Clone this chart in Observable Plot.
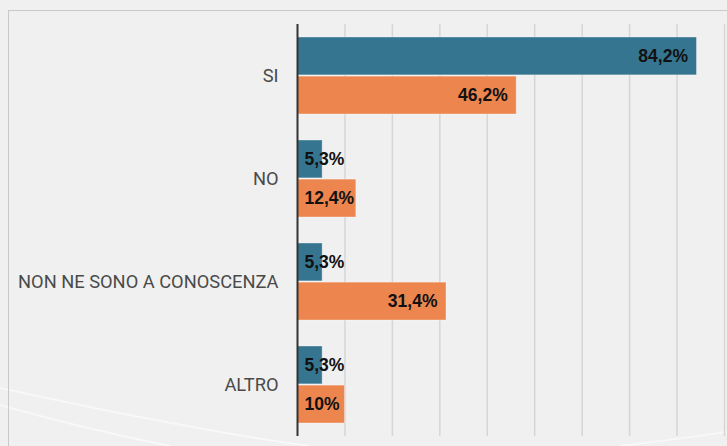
<!DOCTYPE html>
<html>
<head>
<meta charset="utf-8">
<script src="https://cdn.jsdelivr.net/npm/d3@7"></script>
<script src="https://cdn.jsdelivr.net/npm/@observablehq/plot@0.6"></script>
<style>
  html, body { margin: 0; padding: 0; background: #f0f0f0; width: 727px; height: 446px; overflow: hidden; }
  #wrap { position: relative; width: 727px; height: 446px; }
  #panel { position: absolute; left: 8px; top: 10px; right: -2px; bottom: -2px; border-top: 1.5px solid #c9c9c9; border-left: 1.5px solid #c9c9c9; }
  #deco { position: absolute; left: 0; top: 0; }
  #chart { position: absolute; left: 0; top: 0; }
</style>
</head>
<body>
<div id="wrap">
  <svg id="deco" width="727" height="446">
    <path d="M0,388 C110,412 220,434 310,446" fill="none" stroke="#ffffff" stroke-opacity="0.55" stroke-width="2"/>
    <path d="M0,405 C70,425 130,438 170,446" fill="none" stroke="#ffffff" stroke-opacity="0.55" stroke-width="2"/>
    <path d="M620,446 C670,440 705,435 727,432" fill="none" stroke="#ffffff" stroke-opacity="0.5" stroke-width="2"/>
  </svg>
  <div id="panel"></div>
  <div id="chart"></div>
</div>
<script>
const categories = ["SI", "NO", "NON NE SONO A CONOSCENZA", "ALTRO"];
const seriesA = [84.2, 5.3, 5.3, 5.3];
const seriesB = [46.2, 12.4, 31.4, 10];
const gridTicks = [10, 20, 30, 40, 50, 60, 70, 80, 90];

const colorA = "#36758f";
const colorB = "#ec854e";

const W = 727, H = 446, MT = 24, MB = 10, ML = 297, MR = 3;
const pInner = 0.25, pOuter = 0.125;
const step = (H - MT - MB) / (categories.length - pInner + 2 * pOuter);
const bw = step * (1 - pInner);
const half = bw / 2;

const dataA = categories.map((c, i) => ({category: c, value: seriesA[i]}));
const dataB = categories.map((c, i) => ({category: c, value: seriesB[i]}));
const fmt = v => String(v).replace(".", ",") + "%";

function labels(data, dy) {
  const big = data.filter(d => d.value >= 15);
  const small = data.filter(d => d.value < 15);
  const common = {y: "category", text: d => fmt(d.value), dy, fill: "#111", fontWeight: "bold", fontSize: 17.5, fontFamily: "Liberation Sans, Arial, sans-serif"};
  return [
    Plot.text(big, {...common, x: "value", textAnchor: "end", dx: -9}),
    Plot.text(small, {...common, x: () => 0, textAnchor: "start", dx: 7})
  ];
}

const chart = Plot.plot({
  width: W, height: H,
  marginTop: MT, marginBottom: MB, marginLeft: ML, marginRight: MR,
  style: {background: "transparent", fontFamily: "Roboto, sans-serif"},
  x: {domain: [0, 90], axis: null},
  y: {domain: categories, paddingInner: pInner, paddingOuter: pOuter, label: null, axis: null},
  marks: [
    Plot.ruleX(gridTicks, {stroke: "#d6d6d6", strokeWidth: 1.5}),
    Plot.barX(dataA, {x: "value", y: "category", fill: colorA, insetBottom: half + 0.5, stroke: "#ffffff", strokeOpacity: 0.35, strokeWidth: 1}),
    Plot.barX(dataB, {x: "value", y: "category", fill: colorB, insetTop: half + 0.5, stroke: "#ffffff", strokeOpacity: 0.35, strokeWidth: 1}),
    ...labels(dataA, -half / 2),
    ...labels(dataB, half / 2),
    Plot.ruleX([0], {stroke: "#333", strokeWidth: 2}),
    Plot.axisY({tickSize: 0, tickPadding: 19, fontSize: 18.3, fill: "#4a4a4a", label: null})
  ]
});
document.getElementById("chart").appendChild(chart);
</script>
</body>
</html>
